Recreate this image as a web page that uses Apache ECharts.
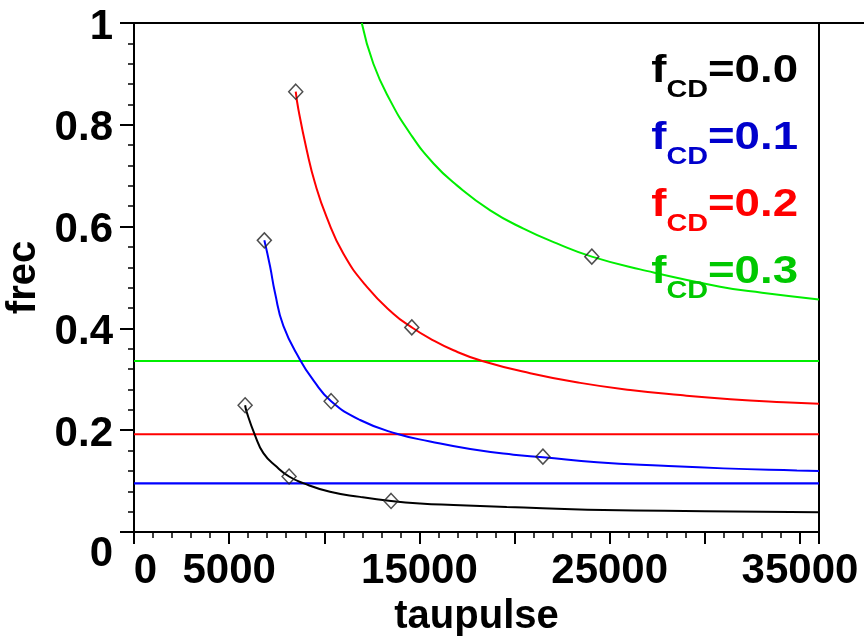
<!DOCTYPE html>
<html>
<head>
<meta charset="utf-8">
<script src="https://cdn.jsdelivr.net/npm/echarts@6/dist/echarts.min.js"></script>
<style>html,body{margin:0;padding:0;background:#fff}#c{width:864px;height:636px}</style>
</head>
<body>
<div id="c"></div>
<script>
// ---- data ----
const xTickLabels = [0, 5000, 15000, 25000, 35000];
const yTickLabels = ['0', '0.2', '0.4', '0.6', '0.8', '1'];

const blackX = [5840, 5920, 6340, 6800, 7500, 8150, 8890, 10300, 11880, 13510, 15040, 16790, 19590, 24670, 30000, 36000];
const blackY = [0.249, 0.236, 0.192, 0.155, 0.128, 0.109, 0.096, 0.079, 0.069, 0.061, 0.056, 0.053, 0.049, 0.043, 0.041, 0.039];

const blueX = [6850, 7150, 7410, 7850, 8730, 9430, 10360, 11880, 13810, 15560, 17670, 19940, 21490, 24330, 27830, 30980, 34840, 36000];
const blueY = [0.573, 0.522, 0.470, 0.405, 0.338, 0.298, 0.257, 0.220, 0.193, 0.178, 0.163, 0.152, 0.147, 0.137, 0.130, 0.125, 0.121, 0.120];

const redX = [8500, 8640, 9080, 9516, 10130, 11000, 12230, 13630, 14600, 15560, 16790, 18300, 20820, 23450, 26080, 28710, 31340, 34140, 36000];
const redY = [0.865, 0.830, 0.750, 0.685, 0.618, 0.547, 0.482, 0.429, 0.402, 0.380, 0.357, 0.336, 0.312, 0.293, 0.279, 0.269, 0.261, 0.255, 0.252];

const greenX = [11970, 12580, 13460, 14510, 15740, 16970, 18720, 20470, 22220, 24060, 26600, 30800, 33000, 36000];
const greenY = [1.0, 0.920, 0.848, 0.783, 0.724, 0.681, 0.632, 0.596, 0.567, 0.541, 0.516, 0.482, 0.470, 0.457];

const markerX = [5840, 8150, 13510, 6850, 10360, 21490, 8500, 14600, 24060];
const markerY = [0.249, 0.109, 0.061, 0.573, 0.257, 0.148, 0.865, 0.402, 0.541];

const levelNames = ['blue', 'red', 'green'];
const levelValues = [0.0956, 0.192, 0.336];
const xRange = [0, 36000];

const legendValues = ['0.0', '0.1', '0.2', '0.3'];
const legendColors = ['#000000', '#0000cc', '#ff0000', '#00c800'];

// ---- chart ----
const FONT = '"Liberation Sans", Arial, sans-serif';
const zip = (xs, ys) => xs.map((x, i) => [x, ys[i]]);
const curveColors = {black: '#000000', blue: '#0000ff', red: '#ff0000', green: '#00ee00'};

const chart = echarts.init(document.getElementById('c'));

const series = [];
levelValues.forEach((lv, i) => {
  series.push({
    type: 'line', name: 'level-' + levelNames[i], data: [[xRange[0], lv], [xRange[1], lv]],
    symbol: 'none', lineStyle: {color: curveColors[levelNames[i]], width: 2.2}, z: 2
  });
});
[['black', blackX, blackY], ['blue', blueX, blueY], ['red', redX, redY], ['green', greenX, greenY]].forEach(([n, xs, ys]) => {
  series.push({
    type: 'line', name: n, data: zip(xs, ys), symbol: 'none', smooth: 0.5,
    lineStyle: {color: curveColors[n], width: 2}, z: 3
  });
});
series.push({
  type: 'scatter', name: 'points', data: zip(markerX, markerY), symbol: 'diamond', symbolSize: [14, 15],
  itemStyle: {color: 'rgba(255,255,255,0)', borderColor: '#222', borderWidth: 1.5}, z: 5
});

const legendGraphics = legendValues.map((v, i) => ({
  type: 'text', x: 798, y: 42 + i * 67, scaleX: 1.2, z: 10,
  style: {
    text: '{f|f}{s|CD}{v|=' + v + '}',
    align: 'right', verticalAlign: 'top',
    fill: legendColors[i],
    rich: {
      f: {fontFamily: FONT, fontWeight: 'bold', fontSize: 38, fill: legendColors[i], color: legendColors[i]},
      s: {fontFamily: FONT, fontWeight: 'bold', fontSize: 24, padding: [36, 0, 0, 0], fill: legendColors[i], color: legendColors[i]},
      v: {fontFamily: FONT, fontWeight: 'bold', fontSize: 38, fill: legendColors[i], color: legendColors[i]}
    }
  }
}));
legendGraphics.push({
  type: 'line', z: 10, shape: {x1: 819, y1: 23, x2: 864, y2: 23}, style: {stroke: '#000', lineWidth: 2}
});

const labelFont = {fontFamily: FONT, fontWeight: 'bold', fontSize: 42, color: '#000'};

chart.setOption({
  animation: false,
  backgroundColor: '#fff',
  grid: {left: 134, right: 45, top: 23, bottom: 104, show: true, borderColor: '#000', borderWidth: 2,
         backgroundColor: 'transparent', containLabel: false, outerBoundsMode: 'none'},
  xAxis: {
    type: 'value', min: xRange[0], max: xRange[1], interval: 5000,
    name: 'taupulse', nameLocation: 'middle', nameGap: 57,
    nameTextStyle: {fontFamily: FONT, fontWeight: 'bold', fontSize: 40, color: '#000'},
    axisLine: {show: true, onZero: false, lineStyle: {color: '#000', width: 2}},
    axisTick: {show: true, inside: false, length: 12, lineStyle: {color: '#000', width: 2}},
    minorTick: {show: true, splitNumber: 5, length: 6, lineStyle: {color: '#000', width: 1.5}},
    splitLine: {show: false},
    axisLabel: Object.assign({}, labelFont, {
      margin: 18, hideOverlap: false, showMinLabel: true, showMaxLabel: true,
      formatter: v => xTickLabels.indexOf(v) >= 0 ? (v === 0 ? '{z|0}' : '{n|' + v + '}') : '',
      rich: {
        z: Object.assign({}, labelFont, {padding: [0, 0, 0, 23]}),
        n: Object.assign({}, labelFont)
      }
    })
  },
  yAxis: {
    type: 'value', min: 0, max: 1, interval: 0.2,
    name: 'frec', nameLocation: 'middle', nameGap: 83,
    nameTextStyle: {fontFamily: FONT, fontWeight: 'bold', fontSize: 40, color: '#000'},
    axisLine: {show: true, onZero: false, lineStyle: {color: '#000', width: 2}},
    axisTick: {show: true, inside: false, length: 14, lineStyle: {color: '#000', width: 2}},
    minorTick: {show: true, splitNumber: 5, length: 6, lineStyle: {color: '#000', width: 1.5}},
    splitLine: {show: false},
    axisLabel: Object.assign({}, labelFont, {
      margin: 21, hideOverlap: false,
      formatter: v => {
        const s = yTickLabels[Math.round(v / 0.2)];
        return v === 0 ? '{z|' + s + '}' : '{n|' + s + '}';
      },
      rich: {
        z: Object.assign({}, labelFont, {padding: [44, 0, 0, 0]}),
        n: Object.assign({}, labelFont, {padding: [8, 0, 0, 0]})
      }
    })
  },
  graphic: legendGraphics,
  series: series
});
</script>
</body>
</html>
